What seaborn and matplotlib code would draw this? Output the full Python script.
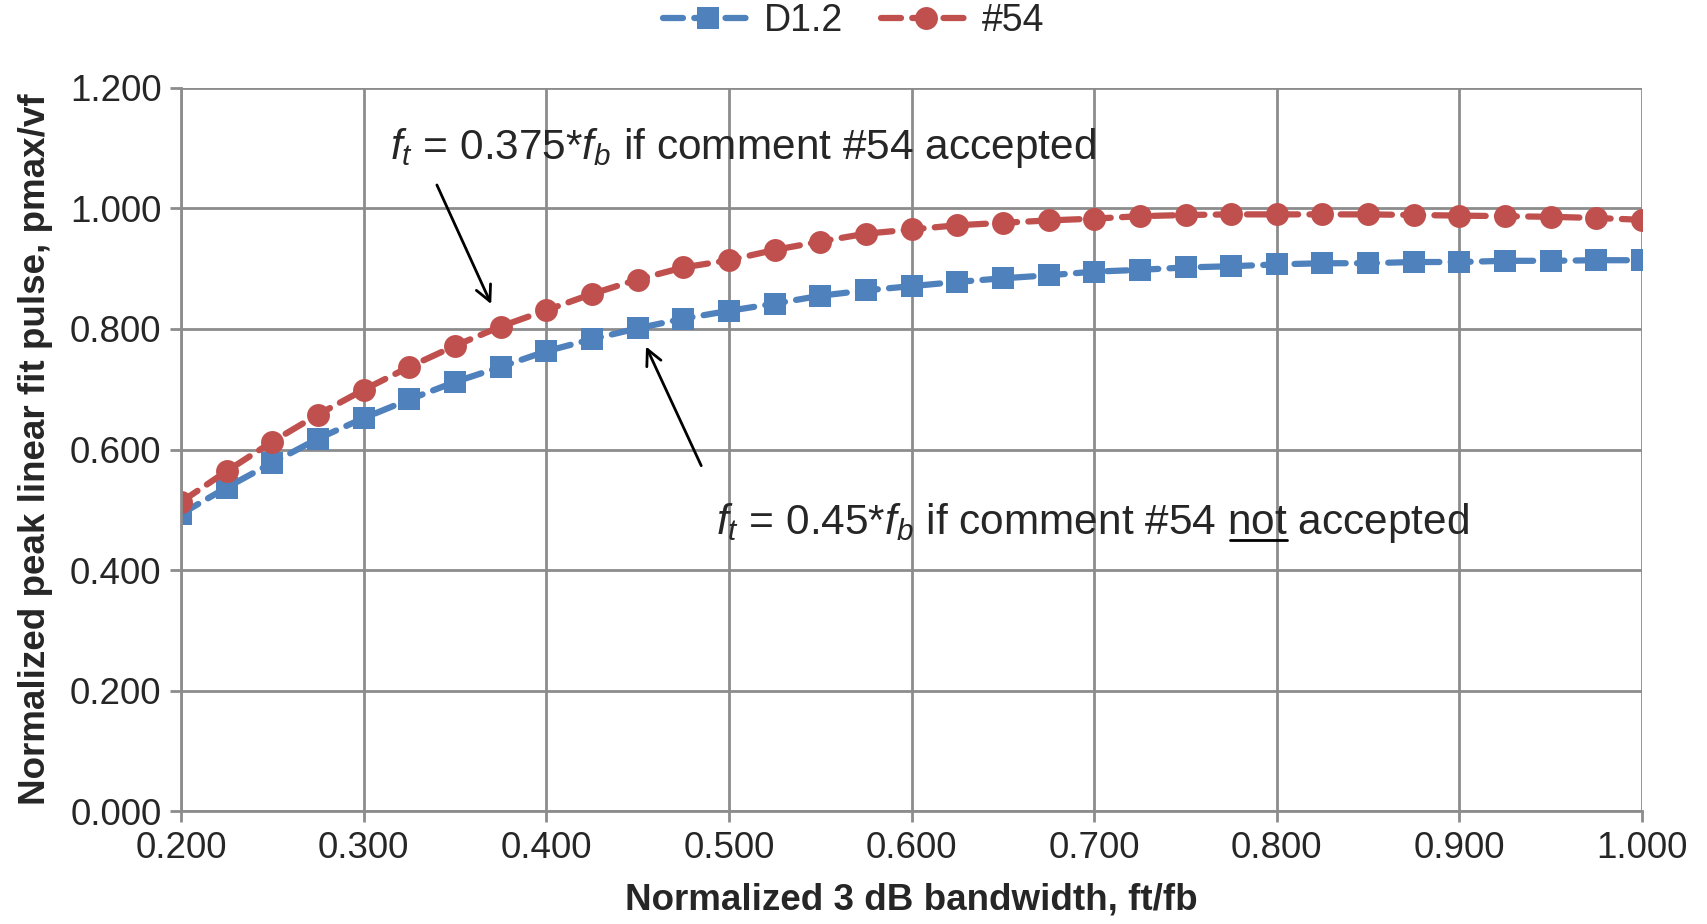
import numpy as np
import pandas as pd
import seaborn as sns
import matplotlib
matplotlib.use('Agg')
import matplotlib.pyplot as plt

# data
bandwidth = [0.200, 0.225, 0.250, 0.275, 0.300, 0.325, 0.350, 0.375, 0.400, 0.425,
	0.450, 0.475, 0.500, 0.525, 0.550, 0.575, 0.600, 0.625, 0.650, 0.675,
	0.700, 0.725, 0.750, 0.775, 0.800, 0.825, 0.850, 0.875, 0.900, 0.925,
	0.950, 0.975, 1.000]
d12 = [0.493, 0.537, 0.578, 0.618, 0.652, 0.683, 0.712, 0.737, 0.763, 0.783,
	0.801, 0.817, 0.830, 0.842, 0.855, 0.864, 0.871, 0.878, 0.884, 0.889,
	0.895, 0.898, 0.902, 0.904, 0.907, 0.909, 0.909, 0.911, 0.911, 0.913,
	0.913, 0.914, 0.914]
c54 = [0.513, 0.564, 0.613, 0.658, 0.699, 0.737, 0.772, 0.804, 0.831, 0.858,
	0.882, 0.902, 0.914, 0.931, 0.945, 0.958, 0.965, 0.972, 0.976, 0.980,
	0.983, 0.987, 0.989, 0.990, 0.990, 0.990, 0.990, 0.989, 0.988, 0.987,
	0.986, 0.984, 0.981]
series_names = ['D1.2', '#54']
colors = ['#4F81BD', '#C0504D']
markers = ['s', 'o']

sns.set_style('white')
plt.rcParams['font.family'] = ['Liberation Sans', 'DejaVu Sans']
plt.rcParams['mathtext.fontset'] = 'custom'
plt.rcParams['mathtext.rm'] = 'Liberation Sans'
plt.rcParams['mathtext.it'] = 'Liberation Sans:italic'

df = pd.DataFrame({'x': bandwidth * 2, 'y': d12 + c54,
	'series': [series_names[0]] * len(d12) + [series_names[1]] * len(c54)})

fig = plt.figure(figsize=(17.07, 9.24), dpi=100)
ax = fig.add_axes([0.106, 0.122, 0.856, 0.783])

for name, col, mk in zip(series_names, colors, markers):
	sub = df[df.series == name]
	sns.lineplot(x=sub.x, y=sub.y, ax=ax, color=col, marker=mk, markersize=16.5,
		markeredgewidth=0, linewidth=4.5, label=name, dashes=False)
for line in ax.lines:
	line.set_linestyle((0, (3.2, 1.8)))
	line.set_dash_capstyle('round')

ax.set_xlim(0.2, 1.0)
ax.set_ylim(0, 1.2)
ax.set_xticks(np.arange(0.2, 1.001, 0.1))
ax.set_yticks(np.arange(0, 1.201, 0.2))
ax.xaxis.set_major_formatter(matplotlib.ticker.FormatStrFormatter('%.3f'))
ax.yaxis.set_major_formatter(matplotlib.ticker.FormatStrFormatter('%.3f'))
ax.grid(True, color='#8c8c8c', linewidth=2)
ax.set_axisbelow(True)
for s in ['top', 'right']:
	ax.spines[s].set_visible(False)
for s in ['left', 'bottom']:
	ax.spines[s].set_color('#8c8c8c')
	ax.spines[s].set_linewidth(2)
ax.tick_params(axis='both', labelsize=26.5, length=8, width=2, color='#8c8c8c',
	direction='out', bottom=True, left=True, pad=6)
ax.set_xlabel('Normalized 3 dB bandwidth, ft/fb', fontsize=26.5, fontweight='bold', labelpad=12)
ax.set_ylabel('Normalized peak linear fit pulse, pmax/vf', fontsize=26.5, fontweight='bold', labelpad=12)

h, l = ax.get_legend_handles_labels()
ax.get_legend().remove()
fig.legend(h, l, loc='upper center', bbox_to_anchor=(0.5, 1.033), ncol=2, frameon=False,
	fontsize=27, handlelength=2.4, columnspacing=1.0, handletextpad=0.3)

# annotations
fs = 30.5
ax.text(0.3145, 1.100, r'$f_t$ = 0.375*$f_b$ if comment #54 accepted', fontsize=fs, va='center')
ax.annotate('', xy=(0.3705, 0.837), xytext=(0.3395, 1.043),
	arrowprops=dict(arrowstyle='->', color='black', lw=2, mutation_scale=28))
prefix = r'$f_t$ = 0.45*$f_b$ if comment #54 '
ax.text(0.493, 0.478, prefix + 'not accepted', fontsize=fs, va='center')
t_end = ax.text(0.493, 0.478, prefix + 'not', fontsize=fs, va='center', alpha=0)
t_not = ax.text(0.493, 0.478, 'not', fontsize=fs, va='center', alpha=0)
fig.canvas.draw()
bb_end = t_end.get_window_extent()
bb_not = t_not.get_window_extent()
x1 = bb_end.x1 - 1
x0 = x1 - bb_not.width + 2
y_ul = bb_not.y0 + 3
fig.lines.append(plt.Line2D([x0 / fig.bbox.width, x1 / fig.bbox.width],
	[y_ul / fig.bbox.height] * 2, transform=fig.transFigure, color='black', lw=2))
ax.annotate('', xy=(0.454, 0.775), xytext=(0.4855, 0.569),
	arrowprops=dict(arrowstyle='->', color='black', lw=2, mutation_scale=28))

plt.savefig('out.png', dpi=100)
